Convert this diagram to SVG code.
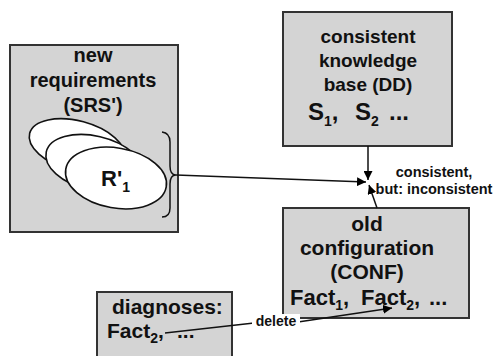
<svg xmlns="http://www.w3.org/2000/svg" width="494" height="356" viewBox="0 0 494 356">
<defs>
<marker id="ah" viewBox="0 0 10 10" refX="10" refY="5" markerWidth="9" markerHeight="9" markerUnits="userSpaceOnUse" orient="auto">
<path d="M0,0 L10,5 L0,10 Z" fill="#000"/>
</marker>
<style>
.box{fill:#d4d4d4;stroke:#333;stroke-width:2}
.t{font-family:"Liberation Sans",Arial,sans-serif;font-weight:bold;fill:#111}
.ell{fill:#fff;stroke:#111;stroke-width:1.6}
.ln{fill:none;stroke:#111;stroke-width:1.5}
</style>
</defs>
<rect width="494" height="356" fill="#fff"/>
<g id="new-requirements">
<rect class="box" x="10" y="45" width="168" height="187"/>
<text class="t" x="93" y="62" font-size="20" text-anchor="middle">new</text>
<text class="t" x="93" y="87" font-size="20" text-anchor="middle">requirements</text>
<text class="t" x="93" y="112" font-size="20" text-anchor="middle">(SRS')</text>
<ellipse class="ell" cx="77" cy="146" rx="49" ry="25" transform="rotate(15 77 146)"/>
<ellipse class="ell" cx="94" cy="163" rx="49" ry="27" transform="rotate(13 94 163)"/>
<ellipse class="ell" cx="116" cy="178" rx="51" ry="30" transform="rotate(10 116 178)"/>
<text class="t" x="101" y="186" font-size="22">R'<tspan font-size="14" dy="6">1</tspan></text>
<path class="ln" d="M162,132 Q170,133 170,142 L170,166 Q170,175 176,175 Q170,175 170,184 L170,208 Q170,217 162,217"/>
</g>
<g id="consistent-kb">
<rect class="box" x="283" y="12" width="169" height="134"/>
<text class="t" x="368" y="43" font-size="19" text-anchor="middle">consistent</text>
<text class="t" x="368" y="67" font-size="19" text-anchor="middle">knowledge</text>
<text class="t" x="368" y="91" font-size="19" text-anchor="middle">base (DD)</text>
<text class="t" x="308" y="120" font-size="24">S<tspan font-size="14" dy="6">1</tspan><tspan dy="-6">,</tspan><tspan x="355">S</tspan><tspan font-size="14" dy="6">2</tspan><tspan x="389" dy="-6">...</tspan></text>
</g>
<g id="old-configuration">
<rect class="box" x="283" y="208" width="186" height="110"/>
<text class="t" x="367" y="231" font-size="21" text-anchor="middle">old</text>
<text class="t" x="367" y="255" font-size="21" text-anchor="middle">configuration</text>
<text class="t" x="367" y="279" font-size="21" text-anchor="middle">(CONF)</text>
<text class="t" x="290" y="305" font-size="22">Fact<tspan font-size="14" dy="5">1</tspan><tspan dy="-5">,</tspan><tspan x="361">Fact</tspan><tspan font-size="14" dy="5">2</tspan><tspan dy="-5">,</tspan><tspan x="429">...</tspan></text>
</g>
<g id="diagnoses">
<rect class="box" x="97" y="292" width="135" height="80"/>
<text class="t" x="112" y="314" font-size="21">diagnoses:</text>
<text class="t" x="107" y="338" font-size="21">Fact<tspan font-size="14" dy="5">2</tspan><tspan dy="-5">,</tspan><tspan x="177">...</tspan></text>
</g>
<g id="connectors">
<line class="ln" x1="176" y1="175" x2="366" y2="182" marker-end="url(#ah)"/>
<line class="ln" x1="368" y1="146" x2="368" y2="180" marker-end="url(#ah)"/>
<line class="ln" x1="377" y1="208" x2="369" y2="185" marker-end="url(#ah)"/>
<text class="t" x="434" y="177" font-size="14.5" text-anchor="middle">consistent,</text>
<text class="t" x="434" y="194" font-size="14.5" text-anchor="middle">but: inconsistent</text>
<line class="ln" x1="165" y1="333" x2="254" y2="323"/>
<line class="ln" x1="298" y1="322" x2="392" y2="308" marker-end="url(#ah)"/>
<rect x="252" y="314" width="48" height="14" fill="#fff"/>
<text class="t" x="276" y="326" font-size="14" text-anchor="middle">delete</text>
</g>
</svg>
